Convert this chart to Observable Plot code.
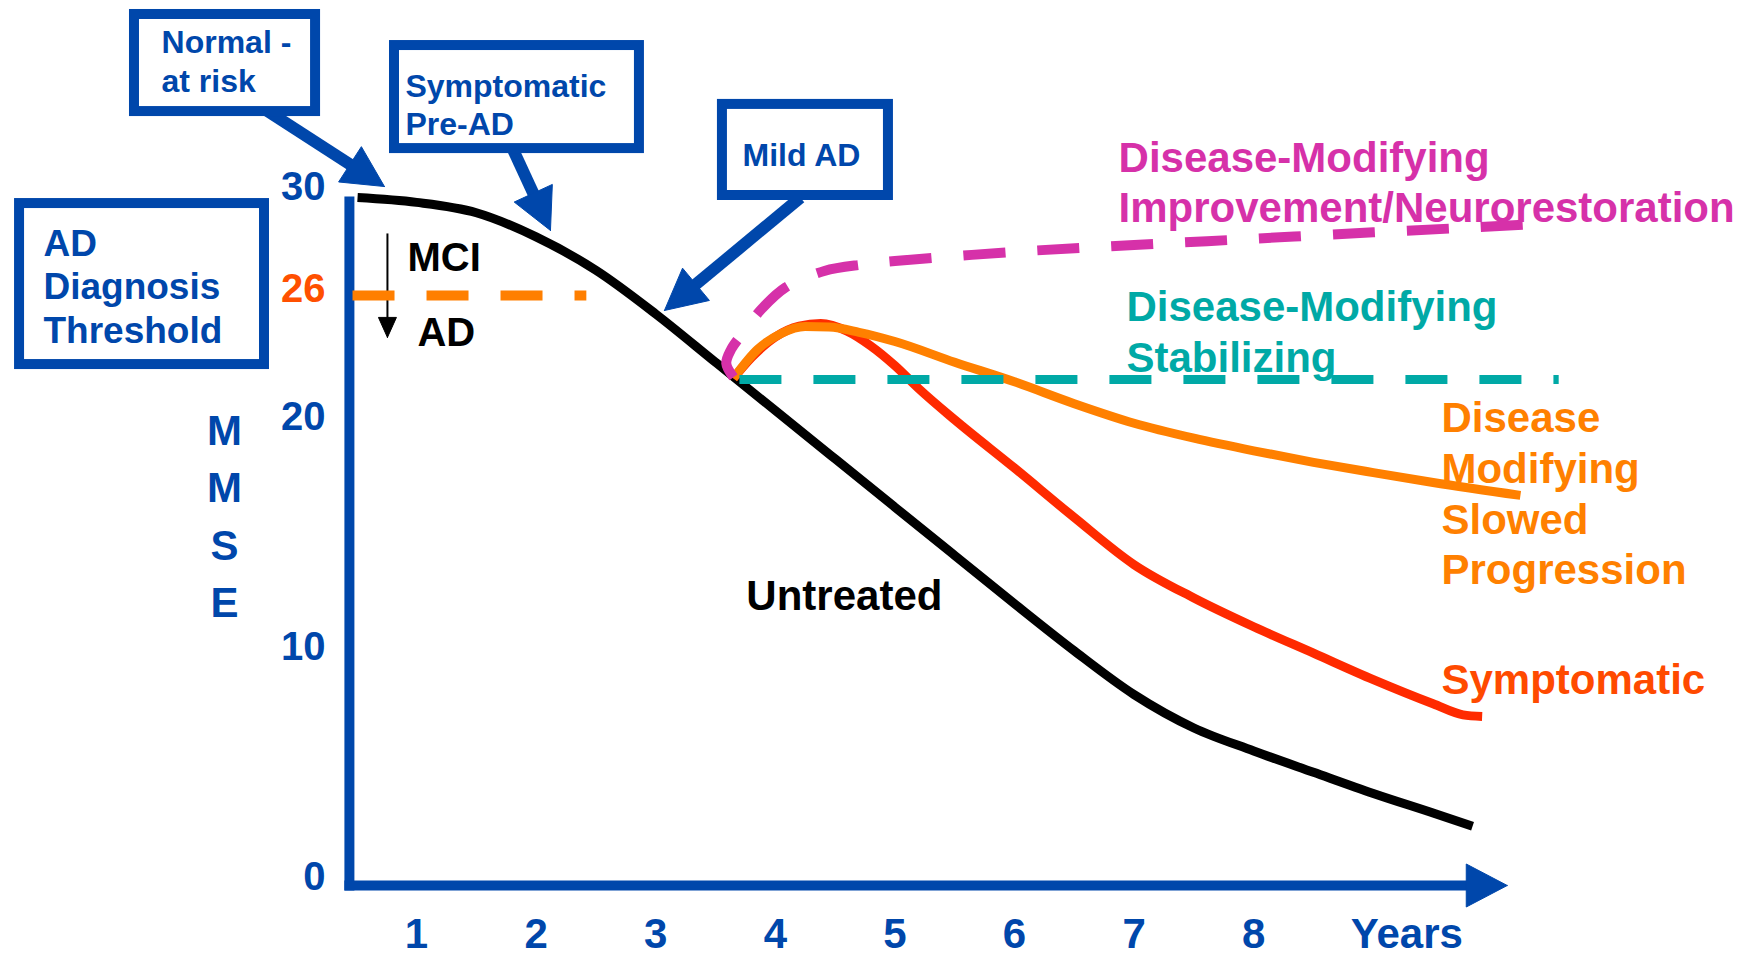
<!DOCTYPE html>
<html>
<head>
<meta charset="utf-8">
<script src="https://cdn.jsdelivr.net/npm/d3@7"></script>
<script src="https://cdn.jsdelivr.net/npm/@observablehq/plot@0.6"></script>
<style>
  html, body { margin: 0; padding: 0; background: #fff; }
  #chart svg { display: block; }
</style>
</head>
<body>
<div id="chart"></div>
<script>
// ---------------- DATA (years, MMSE) ----------------
const years = [1, 2, 3, 4, 5, 6, 7, 8];
const yearsLabel = "Years";
const mmseTicks = [0, 10, 20, 30];
const yAxisTitle = "MMSE";
const thresholdLabel = "26";
const thresholdValue = 25.65;           // drawn height of the dashed threshold line
const thresholdLine = [[0.465, thresholdValue], [2.42, thresholdValue]];

const untreated = [[0.507,29.91],[1.0,29.7],[1.5,29.25],[2.0,28.2],[2.5,26.75],[3.0,24.85],[3.5,22.75],[4.0,20.65],[4.5,18.55],[5.0,16.45],[5.5,14.35],[6.0,12.25],[6.5,10.2],[7.0,8.3],[7.5,6.85],[8.0,5.85],[8.5,4.92],[9.0,4.0],[9.5,3.15],[9.83,2.58]];
const symptomatic = [[3.65,22.05],[3.8,22.95],[4.0,23.85],[4.2,24.32],[4.38,24.43],[4.6,24.1],[4.8,23.45],[5.0,22.6],[5.2,21.6],[5.5,20.25],[6.0,18.15],[6.5,16.0],[7.0,13.95],[7.5,12.5],[8.0,11.25],[8.5,10.1],[9.0,8.95],[9.5,7.9],[9.75,7.42],[9.91,7.35]];
const slowed = [[3.65,22.05],[3.85,23.3],[4.05,24.0],[4.25,24.3],[4.45,24.28],[4.7,24.05],[5.0,23.65],[5.5,22.75],[6.0,21.9],[6.5,20.95],[7.0,20.1],[7.5,19.45],[8.0,18.9],[8.5,18.4],[9.0,17.95],[9.5,17.52],[10.23,16.96]];
const improvement = [[3.65,22.1],[3.59,22.7],[3.63,23.3],[3.71,23.9],[3.89,25.09],[4.085,26.0],[4.41,26.72],[4.73,27.0],[5.0,27.15],[6.0,27.55],[7.0,27.85],[8.0,28.12],[9.0,28.4],[9.71,28.58],[10.29,28.74]];
const stabilizing = [[3.70,22.0],[10.55,22.0]];

const stageLabels = ["Normal -\nat risk", "Symptomatic\nPre-AD", "Mild AD"];
const thresholdBoxLabel = "AD\nDiagnosis\nThreshold";
const seriesLabels = {
  improvement: "Disease-Modifying\nImprovement/Neurorestoration",
  stabilizing: "Disease-Modifying\nStabilizing",
  slowed: "Disease\nModifying\nSlowed\nProgression",
  symptomatic: "Symptomatic",
  untreated: "Untreated"
};
const mciLabels = ["MCI", "AD"];

// ---------------- LAYOUT (annotation anchors in data units) ----------------
const W = 1758, H = 954;
const xDomain = [-2.4783, 12.2207];
const yDomain = [-3.0, 38.4783];
const BLUE = "#0047AB";
const FONT = "Liberation Sans, Arial, Helvetica, sans-serif";

const boxes = [
  {label: stageLabels[0], x1: -1.358, x2: 0.156, y1: 37.87, y2: 33.65, tx: -1.132, ty: 35.89, fs: 32, lh: 1.21},
  {label: stageLabels[1], x1: 0.816, x2: 2.864, y1: 36.52, y2: 32.04, tx: 0.9075, ty: 33.98, fs: 32, lh: 1.17},
  {label: stageLabels[2], x1: 3.558, x2: 4.946, y1: 33.96, y2: 30.0, tx: 3.726, ty: 31.83, fs: 32, lh: 1.2},
  {label: thresholdBoxLabel, x1: -2.319, x2: -0.271, y1: 29.65, y2: 22.65, tx: -2.119, ty: 26.09, fs: 37, lh: 1.18}
];
const pointers = [
  {id: "normal", tail: [-0.279, 33.78], tip: [0.732, 30.39], L: 41, hw: 21, w: 12},
  {id: "preAD",  tail: [1.811, 31.96], tip: [2.120, 28.48], L: 41, hw: 21, w: 12},
  {id: "mild",   tail: [4.21, 29.91],  tip: [3.073, 25.0],  L: 41, hw: 21, w: 12},
  {id: "xaxis",  tail: [0.397, 0],     tip: [10.12, 0],     L: 41, hw: 21.5, w: 10},
  {id: "mci",    tail: [0.757, 28.35], tip: [0.757, 23.83], L: 20, hw: 9, w: 2, color: "#000"}
];
const yAxisX = 0.439, yAxisBottom = -0.22, yAxisTop = 29.96;
const yTickX = 0.239;

// mirror of Plot's linear scales (margins are zero) to build arrowheads
const xs = d3.scaleLinear(xDomain, [0, W]);
const ys = d3.scaleLinear(yDomain, [H, 0]);
const heads = [];
for (const p of pointers) {
  const tx = xs(p.tip[0]), ty = ys(p.tip[1]);
  const sx = xs(p.tail[0]), sy = ys(p.tail[1]);
  const len = Math.hypot(tx - sx, ty - sy);
  const dx = (tx - sx) / len, dy = (ty - sy) / len;
  const bx = tx - p.L * dx, by = ty - p.L * dy;
  const px = -dy, py = dx;
  [[tx, ty], [bx + p.hw * px, by + p.hw * py], [bx - p.hw * px, by - p.hw * py], [tx, ty]]
    .forEach(([x, y]) => heads.push({id: p.id, color: p.color || BLUE, x: xs.invert(x), y: ys.invert(y)}));
  p.end = [xs.invert(bx + 3 * dx), ys.invert(by + 3 * dy)];
}

const txt = (data, o) => Plot.text(data, {fontFamily: FONT, fontWeight: "bold", ...o});
const series = (data, o) => Plot.line(data, {x: d => d[0], y: d => d[1], curve: "monotone-x", strokeLinecap: "butt", strokeLinejoin: "round", ...o});

const chart = Plot.plot({
  width: W, height: H,
  margin: 0,
  x: {domain: xDomain, axis: null},
  y: {domain: yDomain, axis: null},
  style: {background: "#fff", fontFamily: FONT, overflow: "visible"},
  marks: [
    // pointer shafts and heads
    Plot.link(pointers, {x1: d => d.tail[0], y1: d => d.tail[1], x2: d => d.end[0], y2: d => d.end[1],
      stroke: d => d.color || BLUE, strokeWidth: d => d.w}),
    Plot.line(heads, {x: "x", y: "y", z: "id", fill: d => d.color, stroke: d => d.color, strokeWidth: 1, curve: "linear"}),
    // stage boxes
    Plot.rect(boxes, {x1: "x1", x2: "x2", y1: "y1", y2: "y2", fill: "#fff", stroke: BLUE, strokeWidth: 10}),
    ...boxes.map(b => txt([b], {x: "tx", y: "ty", text: "label", fill: BLUE, fontSize: b.fs, lineHeight: b.lh,
      textAnchor: "start", lineAnchor: "middle"})),
    // y axis line
    Plot.link([0], {x1: () => yAxisX, x2: () => yAxisX, y1: () => yAxisBottom, y2: () => yAxisTop, stroke: BLUE, strokeWidth: 10}),
    // threshold
    series(thresholdLine, {stroke: "#FF7F00", strokeWidth: 10, strokeDasharray: "42 32", curve: "linear"}),
    // curves
    series(untreated, {stroke: "#000", strokeWidth: 9}),
    series(symptomatic, {stroke: "#FF2A00", strokeWidth: 9}),
    series(slowed, {stroke: "#FF8000", strokeWidth: 9}),
    series(improvement, {stroke: "#D631A9", strokeWidth: 10, strokeDasharray: "42 32", curve: "catmull-rom"}),
    series(stabilizing, {stroke: "#00A9A6", strokeWidth: 9, strokeDasharray: "42 32", curve: "linear"}),
    // tick labels
    txt(mmseTicks, {x: () => yTickX, y: d => d, text: d => String(d), dy: -8, fill: BLUE, fontSize: 40, textAnchor: "end"}),
    txt([thresholdLabel], {x: () => yTickX, y: () => thresholdValue, text: d => d, dy: -6, fill: "#FF5000", fontSize: 40, textAnchor: "end"}),
    txt(years, {x: d => d, y: () => 0, text: d => String(d), dy: 49, fill: BLUE, fontSize: 42, textAnchor: "middle"}),
    txt([yearsLabel], {x: () => 9.28, y: () => 0, text: d => d, dy: 49, fill: BLUE, fontSize: 42, textAnchor: "middle"}),
    txt([yAxisTitle.split("").join("\n")], {x: () => -0.605, y: () => 16.22, text: d => d, fill: BLUE, fontSize: 42, lineHeight: 1.37, textAnchor: "middle", lineAnchor: "middle"}),
    // series labels
    txt([seriesLabels.improvement], {x: () => 6.87, y: () => 30.65, text: d => d, fill: "#D631A9", fontSize: 42, lineHeight: 1.19, textAnchor: "start", lineAnchor: "middle"}),
    txt([seriesLabels.stabilizing], {x: () => 6.936, y: () => 24.15, text: d => d, fill: "#00A9A6", fontSize: 42, lineHeight: 1.21, textAnchor: "start", lineAnchor: "middle"}),
    txt([seriesLabels.slowed], {x: () => 9.57, y: () => 17.11, text: d => d, fill: "#FF8000", fontSize: 42, lineHeight: 1.21, textAnchor: "start", lineAnchor: "middle"}),
    txt([seriesLabels.symptomatic], {x: () => 9.57, y: () => 8.91, text: d => d, fill: "#FF4A00", fontSize: 42, textAnchor: "start", lineAnchor: "middle"}),
    txt([seriesLabels.untreated], {x: () => 3.758, y: () => 12.57, text: d => d, fill: "#000", fontSize: 42, textAnchor: "start", lineAnchor: "middle"}),
    txt([mciLabels[0]], {x: () => 0.925, y: () => 27.26, text: d => d, fill: "#000", fontSize: 40, textAnchor: "start", lineAnchor: "middle"}),
    txt([mciLabels[1]], {x: () => 1.008, y: () => 24.0, text: d => d, fill: "#000", fontSize: 40, textAnchor: "start", lineAnchor: "middle"})
  ]
});
document.getElementById("chart").appendChild(chart);
</script>
</body>
</html>
